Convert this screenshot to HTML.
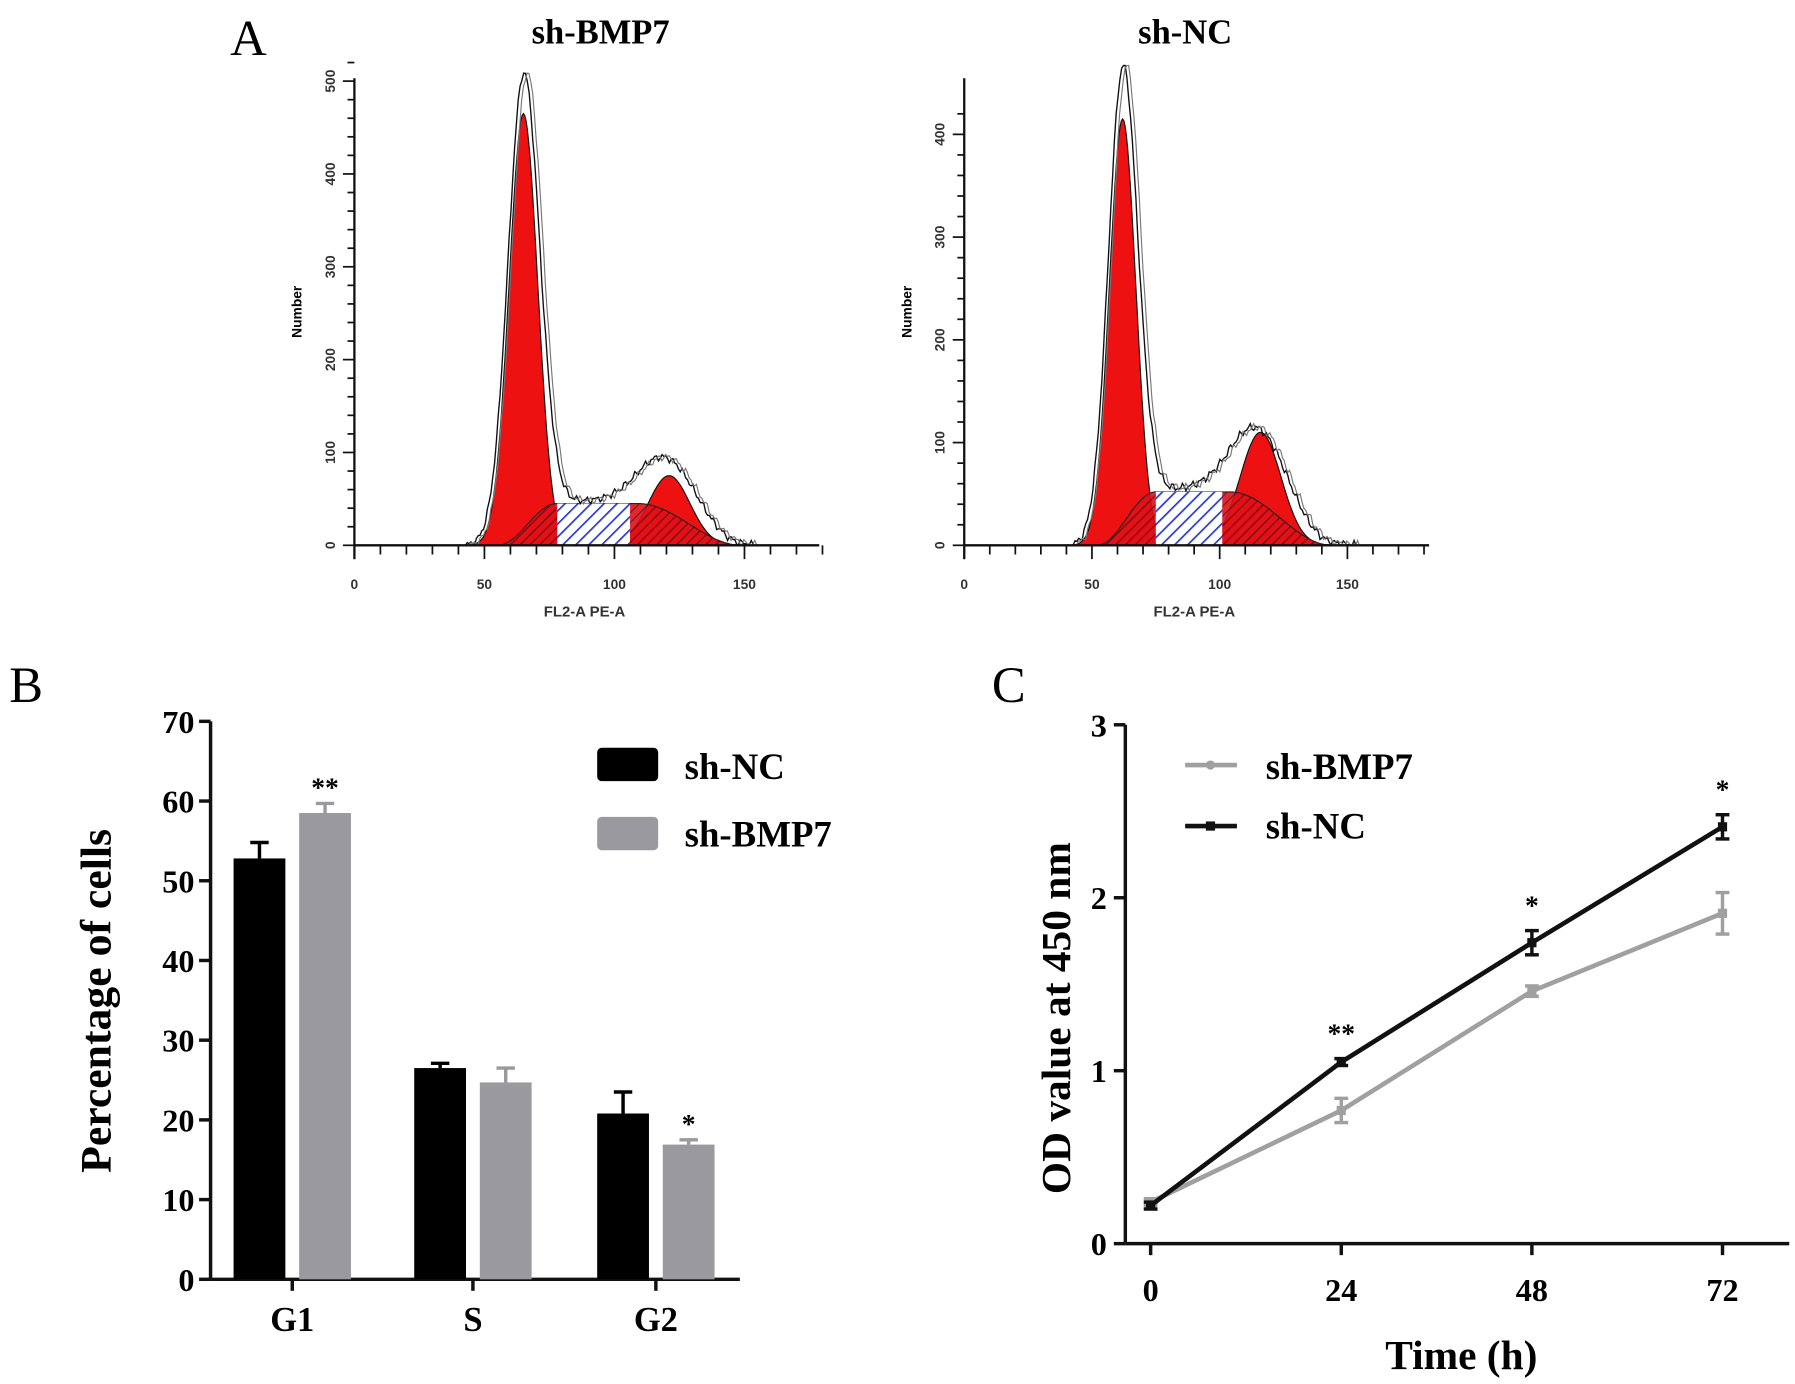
<!DOCTYPE html>
<html><head><meta charset="utf-8"><style>
html,body{margin:0;padding:0;background:#fff}
svg{display:block}
.serif{font-family:"Liberation Serif",serif;font-weight:bold}
.sans{font-family:"Liberation Sans",sans-serif}
</style></head><body>
<svg id="fig" width="1795" height="1384" viewBox="0 0 1560 1203" preserveAspectRatio="none" xmlns="http://www.w3.org/2000/svg">
<defs>
<pattern id="hatchRed" patternUnits="userSpaceOnUse" width="6" height="6" patternTransform="rotate(45)">
<rect width="6" height="6" fill="#e0101a"/><line x1="0" y1="0" x2="0" y2="6" stroke="#600" stroke-width="2"/></pattern>
<pattern id="hatchBlue" patternUnits="userSpaceOnUse" width="8" height="8" patternTransform="rotate(45)">
<rect width="8" height="8" fill="#fff"/><line x1="0" y1="0" x2="0" y2="8" stroke="#2a3cc8" stroke-width="3"/></pattern>
</defs>
<text x="200" y="48" font-size="44" style="font-family:'Liberation Serif',serif">A</text>
<text class="serif" x="522" y="38" font-size="30" text-anchor="middle">sh-BMP7</text>
<text class="serif" x="1030" y="38" font-size="30" text-anchor="middle">sh-NC</text>
<text x="8" y="610" font-size="44" style="font-family:'Liberation Serif',serif">B</text>
<text x="862" y="610" font-size="44" style="font-family:'Liberation Serif',serif">C</text>
<g id="gA"></g><g id="gB"></g><g id="gC"></g>
</svg>
<script>
// ---- Panel A histogram model data ----
const histNames = ['hist-sh-bmp7','hist-sh-nc'];
const g1Mean = [65, 62];
const g1Height = [465, 415];
const g1Sd = [5.5, 5.2];
const g2Mean = [121, 116];
const g2Height = [75, 110];
const g2Sd = [8, 8];
const sHeight = [45, 52];
const envPeak = [490, 445];
const yTicksA = [[0,100,200,300,400,500],[0,100,200,300,400]];
const xTicksA = [0,50,100,150];

// ---- Panel B data ----
const phases = ['G1','S','G2'];
const pctNC = [52.8, 26.5, 20.8];
const errNC = [2.0, 0.6, 2.7];
const pctBMP7 = [58.5, 24.7, 16.9];
const errBMP7 = [1.2, 1.8, 0.6];
const sigB = ['**','','*'];
const yTicksB = [0,10,20,30,40,50,60,70];

// ---- Panel C data ----
const times = [0,24,48,72];
const odNC = [0.22, 1.05, 1.74, 2.41];
const odNCerr = [0.02, 0.02, 0.07, 0.07];
const odBMP7 = [0.24, 0.77, 1.46, 1.91];
const odBMP7err = [0.02, 0.07, 0.03, 0.12];
const sigC = ['','**','*','*'];
const yTicksC = [0,1,2,3];

const NS='http://www.w3.org/2000/svg';
function mk(parent, tag, attrs, text){const e=document.createElementNS(NS,tag);for(const k in attrs)e.setAttribute(k,attrs[k]);if(text!==undefined)e.textContent=text;parent.appendChild(e);return e;}
function gauss(x,m,s,h){return h*Math.exp(-0.5*((x-m)/s)**2);}

// Panel A
const gA=document.getElementById('gA');
const hx0=[308,838], hxPer50=[113,111], hy0=474, hyPer100=[80.7,89.3];
for(let h=0;h<2;h++){
  const xs=v=>hx0[h]+v*hxPer50[h]/50, ys=v=>hy0-v*hyPer100[h]/100;
  const g=mk(gA,'g',{});
  
  
  const lo=g1Mean[h]-10, pk=g1Mean[h]+13, pk2=g2Mean[h]-12, hi=g2Mean[h]+28;
  const sFun=x=>{
    if(x<=lo||x>=hi)return 0;
    if(x<pk)return sHeight[h]*0.5*(1-Math.cos(Math.PI*(x-lo)/(pk-lo)));
    if(x<=pk2)return sHeight[h];
    return sHeight[h]*0.5*(1+Math.cos(Math.PI*(x-pk2)/(hi-pk2)));};
  const pts=f=>{let d='M'+xs(40)+','+ys(0);for(let x=40;x<=160;x+=0.5)d+=' L'+xs(x).toFixed(1)+','+ys(f(x)).toFixed(1);return d+' L'+xs(160)+','+ys(0)+'Z';};
  const g1=mk(g,'path',{d:pts(x=>gauss(x,g1Mean[h],g1Sd[h],g1Height[h])),fill:'#ee1111',stroke:'#111','stroke-width':1});
  
  const g2=mk(g,'path',{d:pts(x=>gauss(x,g2Mean[h],g2Sd[h],g2Height[h])),fill:'#ee1111',stroke:'#111','stroke-width':1});
  
  // S phase on top
  const cid='clipS'+h;
  const cp=mk(gA,'clipPath',{id:cid});
  mk(cp,'rect',{x:xs(pk),y:0,width:xs(pk2-3)-xs(pk),height:600});
  const sp=mk(g,'path',{d:pts(sFun),fill:'url(#hatchRed)','fill-opacity':0.9,stroke:'#222','stroke-width':1});
  
  mk(g,'path',{d:pts(sFun),fill:'url(#hatchBlue)','clip-path':'url(#'+cid+')'});
  // envelope
  const env=x=>gauss(x,g1Mean[h],g1Sd[h]*1.1,envPeak[h])+sFun(x)*1.05+gauss(x,g2Mean[h],g2Sd[h]*1.4,g2Height[h]*0.45+(h?20:22));
  let d='';for(let x=42;x<=155;x+=0.7){const n=Math.sin(x*7.3)*2.5+Math.sin(x*3.1)*2;d+=(d?' L':'M')+xs(x).toFixed(1)+','+ys(Math.max(0,env(x)+n)).toFixed(1);}
  const e1=mk(g,'path',{d:d,fill:'none',stroke:'#111','stroke-width':1.2});
  
  mk(g,'path',{d:d,fill:'none',stroke:'#777','stroke-width':1,transform:'translate(3,0)'});
  // axes
  mk(g,'line',{x1:hx0[h],y1:ys(0),x2:hx0[h]+404,y2:ys(0),stroke:'#111','stroke-width':2});
  mk(g,'line',{x1:hx0[h],y1:ys(0)+12,x2:hx0[h],y2:68,stroke:'#111','stroke-width':2});
  for(let v=0;v<=180;v+=10){const big=v%50===0;mk(g,'line',{x1:xs(v),y1:ys(0),x2:xs(v),y2:ys(0)+(big?12:8),stroke:'#111','stroke-width':1.5});}
  xTicksA.forEach(v=>mk(g,'text',{x:xs(v),y:ys(0)+38,'font-size':12,'text-anchor':'middle',class:'sans','font-weight':'bold',fill:'#333'},String(v)));
  const top=yTicksA[h][yTicksA[h].length-1];
  for(let v=0;v<=top+20;v+=20){const big=v%100===0;mk(g,'line',{x1:hx0[h]-(big?10:6),y1:ys(v),x2:hx0[h],y2:ys(v),stroke:'#111','stroke-width':1.5});}
  yTicksA[h].forEach(v=>{mk(g,'text',{x:0,y:0,'font-size':12,'text-anchor':'middle',class:'sans','font-weight':'bold',fill:'#333',transform:`translate(${hx0[h]-17},${ys(v)}) rotate(-90)`},String(v));});
  mk(g,'text',{x:0,y:0,'font-size':12,'text-anchor':'middle',class:'sans','font-weight':'bold',transform:`translate(${hx0[h]-46},271) rotate(-90)`},'Number');
  mk(g,'text',{x:hx0[h]+200,y:536,'font-size':13,'text-anchor':'middle',class:'sans','font-weight':'bold',fill:'#333'},'FL2-A PE-A');
}

// Panel B
const gB=document.getElementById('gB');
const bx0=183, by0=1112, byPer=(1112-627)/70;
const yB=v=>by0-v*byPer;
const grpX=[203,360,519], bw=45, gap=57;
mk(gB,'line',{x1:bx0,y1:627,x2:bx0,y2:by0,stroke:'#111','stroke-width':3});
mk(gB,'line',{x1:bx0,y1:by0,x2:643,y2:by0,stroke:'#111','stroke-width':3});
yTicksB.forEach(v=>{mk(gB,'line',{x1:bx0-10,y1:yB(v),x2:bx0,y2:yB(v),stroke:'#111','stroke-width':3});
 mk(gB,'text',{x:bx0-14,y:yB(v)+10,'font-size':28,'text-anchor':'end',class:'serif'},String(v));});
phases.forEach((p,i)=>{
  [[pctNC,errNC,'#000','bar-nc-'],[pctBMP7,errBMP7,'#9a9a9e','bar-bmp7-']].forEach((s,j)=>{
    const x=grpX[i]+j*gap, v=s[0][i], e=s[1][i];
    mk(gB,'line',{x1:x+bw/2,y1:yB(v),x2:x+bw/2,y2:yB(v+e),stroke:s[2],'stroke-width':3});
    mk(gB,'line',{x1:x+bw/2-8,y1:yB(v+e),x2:x+bw/2+8,y2:yB(v+e),stroke:s[2],'stroke-width':3});
    const r=mk(gB,'rect',{x:x,y:yB(v),width:bw,height:by0-yB(v),fill:s[2]});
    
    
  });
  mk(gB,'line',{x1:grpX[i]+(bw+gap)/2,y1:by0,x2:grpX[i]+(bw+gap)/2,y2:by0+10,stroke:'#111','stroke-width':3});
  mk(gB,'text',{x:grpX[i]+(bw+gap)/2,y:1157,'font-size':30,'text-anchor':'middle',class:'serif'},p);
  if(sigB[i])mk(gB,'text',{x:grpX[i]+gap+bw/2,y:yB(pctBMP7[i]+errBMP7[i])-6,'font-size':24,'text-anchor':'middle',class:'serif'},sigB[i]);
});
mk(gB,'text',{x:0,y:0,'font-size':38,'text-anchor':'middle',class:'serif',transform:'translate(96,870) rotate(-90)'},'Percentage of cells');
const lb1=mk(gB,'rect',{x:519,y:650,width:53,height:29,rx:4,fill:'#000'});

mk(gB,'text',{x:595,y:677,'font-size':32,class:'serif'},'sh-NC');
const lb2=mk(gB,'rect',{x:519,y:710,width:53,height:29,rx:4,fill:'#9a9a9e'});

mk(gB,'text',{x:595,y:736,'font-size':32,class:'serif'},'sh-BMP7');

// Panel C
const gC=document.getElementById('gC');
const cx0=978, cy0=1081, cyPer=(1081-630)/3;
const xC=t=>1000+t*(1497-1000)/72, yC=v=>cy0-v*cyPer;
mk(gC,'line',{x1:cx0,y1:630,x2:cx0,y2:cy0,stroke:'#111','stroke-width':3});
mk(gC,'line',{x1:cx0,y1:cy0,x2:1555,y2:cy0,stroke:'#111','stroke-width':3});
yTicksC.forEach(v=>{mk(gC,'line',{x1:cx0-10,y1:yC(v),x2:cx0,y2:yC(v),stroke:'#111','stroke-width':3});
 mk(gC,'text',{x:cx0-16,y:yC(v)+10,'font-size':28,'text-anchor':'end',class:'serif'},String(v));});
times.forEach(t=>{mk(gC,'line',{x1:xC(t),y1:cy0,x2:xC(t),y2:cy0+10,stroke:'#111','stroke-width':3});
 mk(gC,'text',{x:xC(t),y:1131,'font-size':28,'text-anchor':'middle',class:'serif'},String(t));});
[[odBMP7,odBMP7err,'#a0a0a0','line-sh-bmp7'],[odNC,odNCerr,'#111','line-sh-nc']].forEach(s=>{
  const d=times.map((t,i)=>(i?'L':'M')+xC(t)+','+yC(s[0][i])).join(' ');
  const p=mk(gC,'path',{d:d,fill:'none',stroke:s[2],'stroke-width':4});
  
  
  times.forEach((t,i)=>{const v=s[0][i],e=s[1][i];
    mk(gC,'line',{x1:xC(t),y1:yC(v-e),x2:xC(t),y2:yC(v+e),stroke:s[2],'stroke-width':3});
    mk(gC,'line',{x1:xC(t)-6,y1:yC(v+e),x2:xC(t)+6,y2:yC(v+e),stroke:s[2],'stroke-width':3});
    mk(gC,'line',{x1:xC(t)-6,y1:yC(v-e),x2:xC(t)+6,y2:yC(v-e),stroke:s[2],'stroke-width':3});
    mk(gC,'rect',{x:xC(t)-4,y:yC(v)-4,width:8,height:8,fill:s[2]});});
});
times.forEach((t,i)=>{if(sigC[i])mk(gC,'text',{x:xC(t),y:yC(odNC[i]+odNCerr[i])-14,'font-size':24,'text-anchor':'middle',class:'serif'},sigC[i]);});
mk(gC,'text',{x:0,y:0,'font-size':36,'text-anchor':'middle',class:'serif',transform:'translate(930,885) rotate(-90)'},'OD value at 450 nm');
mk(gC,'text',{x:1270,y:1190,'font-size':36,'text-anchor':'middle',class:'serif'},'Time (h)');
const l1=mk(gC,'line',{x1:1030,y1:665,x2:1075,y2:665,stroke:'#a0a0a0','stroke-width':4});

mk(gC,'circle',{cx:1052,cy:665,r:4,fill:'#a0a0a0'});
mk(gC,'text',{x:1100,y:677,'font-size':32,class:'serif'},'sh-BMP7');
const l2=mk(gC,'line',{x1:1030,y1:718,x2:1075,y2:718,stroke:'#111','stroke-width':4});

mk(gC,'rect',{x:1048,y:714,width:8,height:8,fill:'#111'});
mk(gC,'text',{x:1100,y:729,'font-size':32,class:'serif'},'sh-NC');
</script>
</body></html>
